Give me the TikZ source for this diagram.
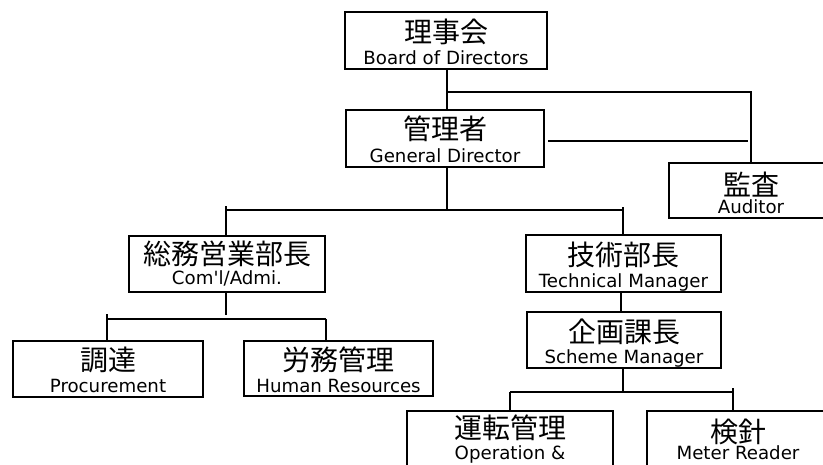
\documentclass[tikz,border=0pt]{standalone}
\usepackage{fontspec}
\setmainfont{DejaVu Sans}
\newfontfamily\jpfont{Noto Sans CJK JP}
\newfontfamily\enfont{DejaVu Sans}
\begin{document}
\begin{tikzpicture}[x=1pt,y=-1pt,
  orgbox/.style={draw=black, line width=1.4pt, inner sep=0pt},
  jplabel/.style={font=\jpfont\fontsize{28}{28}\selectfont, inner sep=0pt, anchor=center},
  enlabel/.style={font=\enfont\fontsize{18.2}{18.2}\selectfont, inner sep=0pt, anchor=base},
  link/.style={line width=1.4pt}]
\useasboundingbox (0,0) rectangle (823,464);
\clip (0,0) rectangle (823,464);
\fill[white] (0,0) rectangle (823,464);

% Board of Directors
\node[orgbox, minimum width=202pt, minimum height=57pt] (board) at (446,40.5) {};
\node[jplabel] (board-jp) at (446,32) {理事会};
\node[enlabel] (board-en) at (446,64.5) {Board of Directors};

% General Director
\node[orgbox, minimum width=198pt, minimum height=57pt] (gd) at (445,138.5) {};
\node[jplabel] (gd-jp) at (445,129) {管理者};
\node[enlabel] (gd-en) at (445,162) {General Director};

% Auditor
\node[orgbox, minimum width=164pt, minimum height=55pt] (aud) at (751,190.5) {};
\node[jplabel] (aud-jp) at (751,185) {監査};
\node[enlabel] (aud-en) at (751,213.5) {Auditor};

% Com'l / Admi.
\node[orgbox, minimum width=196pt, minimum height=56pt] (com) at (227,264) {};
\node[jplabel] (com-jp) at (227,254) {総務営業部長};
\node[enlabel] (com-en) at (227,284.5) {Com'l/Admi.};

% Technical Manager
\node[orgbox, minimum width=195pt, minimum height=57pt] (tech) at (623.5,263.5) {};
\node[jplabel] (tech-jp) at (623.5,255) {技術部長};
\node[enlabel] (tech-en) at (623.5,287.5) {Technical Manager};

% Scheme Manager
\node[orgbox, minimum width=194pt, minimum height=56pt] (sch) at (624,340) {};
\node[jplabel] (sch-jp) at (624,332) {企画課長};
\node[enlabel] (sch-en) at (624,363.5) {Scheme Manager};

% Procurement
\node[orgbox, minimum width=190pt, minimum height=56pt] (proc) at (108,369) {};
\node[jplabel] (proc-jp) at (108,360) {調達};
\node[enlabel] (proc-en) at (108,392.5) {Procurement};

% Human Resources
\node[orgbox, minimum width=189pt, minimum height=55pt] (hr) at (338.5,368.5) {};
\node[jplabel] (hr-jp) at (338.5,360) {労務管理};
\node[enlabel] (hr-en) at (338.5,392.5) {Human Resources};

% Operation &
\node[orgbox, minimum width=206pt, minimum height=80pt] (ops) at (510,451) {};
\node[jplabel] (ops-jp) at (510,428) {運転管理};
\node[enlabel] (ops-en) at (510,459.5) {Operation \&};

% Meter Reader
\node[orgbox, minimum width=182pt, minimum height=80pt] (met) at (738,451) {};
\node[jplabel] (met-jp) at (738,432) {検針};
\node[enlabel] (met-en) at (738,459.5) {Meter Reader};

% connectors
\coordinate (j1) at (447,92);
\coordinate (j1r) at (751,92);
\draw[link] (board.south -| j1) -- (gd.north -| j1);
\draw[link] (j1) -- (j1r) -- (aud.north -| j1r);
\coordinate (gdl1) at (548,141);
\coordinate (gdl2) at (748,141);
\draw[link] (gdl1) -- (gdl2);

\coordinate (j2) at (447,210);
\coordinate (j2l) at (226,210);
\coordinate (j2r) at (623,210);
\draw[link] (gd.south -| j2) -- (j2);
\draw[link] (j2l) -- (j2r);
\draw[link] ([yshift=4pt]j2l) -- (com.north -| j2l);
\draw[link] ([yshift=3pt]j2r) -- (tech.north -| j2r);

\coordinate (j3) at (621,300);
\draw[link] (tech.south -| j3) -- (sch.north -| j3);

\coordinate (j4) at (226,315);
\coordinate (j4l) at (107,319);
\coordinate (j4r) at (326,319);
\draw[link] (com.south -| j4) -- (j4);
\draw[link] (j4l) -- (j4r);
\draw[link] ([yshift=5pt]j4l) -- (proc.north -| j4l);
\draw[link] (j4r) -- (hr.north -| j4r);

\coordinate (j5) at (623,392);
\coordinate (j5l) at (510,392);
\coordinate (j5r) at (733,392);
\draw[link] (sch.south -| j5) -- (j5);
\draw[link] (j5l) -- (j5r);
\draw[link] (j5l) -- (ops.north -| j5l);
\draw[link] ([yshift=4pt]j5r) -- (met.north -| j5r);
\end{tikzpicture}
\end{document}
